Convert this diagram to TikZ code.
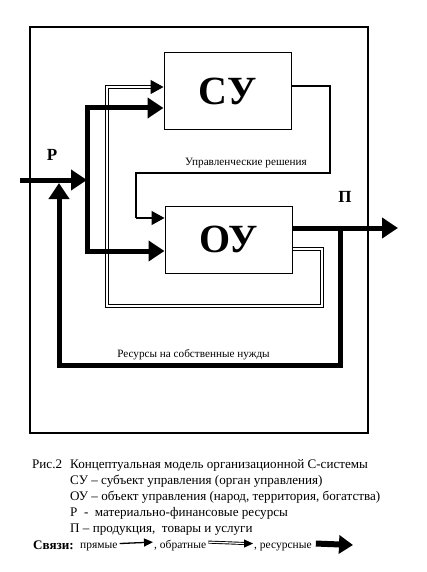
\documentclass[tikz,border=0pt]{standalone}
\usepackage{fontspec}
\setmainfont{Liberation Serif}
\usetikzlibrary{arrows.meta,calc}
\begin{document}
\begin{tikzpicture}[x=1pt,y=-1pt,
  box/.style={draw,line width=1pt,inner sep=0pt},
  bigtxt/.style={font=\fontsize{40}{40}\bfseries\selectfont},
  thinln/.style={line width=1.4pt},
  thinarr/.style={line width=1.4pt,-{Triangle[length=13pt,width=14pt]}},
  thickln/.style={line width=5pt},
  thickarr/.style={line width=5pt,-{Triangle[length=16pt,width=20pt]}},
  fbln/.style={double,double distance=1.3pt,line width=0.9pt},
  small/.style={font=\fontsize{11.2}{12}\selectfont,inner sep=0pt},
  legt/.style={font=\fontsize{11.5}{12}\selectfont,inner sep=0pt,anchor=base west},
  capt/.style={font=\fontsize{13.1}{14}\selectfont,inner sep=0pt,anchor=base west},
  lett/.style={font=\fontsize{17}{17}\bfseries\selectfont,inner sep=0pt}]
\useasboundingbox[fill=white] (0,0) rectangle (426,572);
% outer frame
\draw[line width=2.5pt] (30,27) rectangle (368,433);
% boxes
\node[box,minimum width=127pt,minimum height=77pt] (su) at (227.5,91.5) {};
\node[bigtxt] (sut) at (su.center) {СУ};
\node[box,minimum width=127pt,minimum height=67pt] (ou) at (228.5,239.5) {};
\node[bigtxt] (out) at (ou.center) {ОУ};
% feedback (double), drawn first so the thick lines lie over it
\coordinate (f1) at (322,249);
\coordinate (f2) at (322,306);
\coordinate (f3) at (107,306);
\coordinate (f4) at (107,87);
\coordinate (f5) at (152,87);
\draw[fbln] ([yshift=-9.5pt]ou.east) -- (f1) -- (f2) -- (f3) -- (f4) -- (f5);
\draw[thinarr,shorten <=-1pt] (f5) -- ([yshift=4.5pt]su.west);
% coordinates
\coordinate (pin) at (20,180);
\coordinate (j1) at (87,180);
\coordinate (top) at (87,108);
\coordinate (bot) at (87,251);
% resource input P
\node[lett] (P) at (52,155) {Р};
\draw[thickarr] (pin) -- (j1);
\draw[thickln,line cap=rect] (top) -- (bot);
\draw[thickarr] (top) -- ([yshift=-16.5pt]su.west);
\draw[thickarr] (bot) -- ([yshift=-11.5pt]ou.west);
% control decisions
\coordinate (c1) at (330,86);
\coordinate (c2) at (330,173);
\coordinate (c3) at (136,173);
\coordinate (c4) at (136,218);
\draw[thinln] ([yshift=5.5pt]su.east) -- (c1) -- (c2) -- (c3) -- (c4);
\draw[thinarr] (c4) -- ([yshift=21.5pt]ou.west);
\node[small] (ur) at (246,163) {Управленческие решения};
% output
\coordinate (outend) at (398,228);
\draw[thickarr] ([yshift=11.5pt]ou.east) -- (outend);
\node[lett] (Pi) at (345,197) {П};
% resources for own needs
\coordinate (r0) at (340,228);
\coordinate (r1) at (340,365);
\coordinate (r2) at (59,365);
\coordinate (r25) at (59,250);
\coordinate (r3) at (59,183);
\draw[thickln] (r0) -- (r1) -- (r2) -- (r25);
\draw[thickarr] (r25) -- (r3);
\node[small] (rs) at (193.5,355) {Ресурсы на собственные нужды};
% caption
\node[capt] (c0) at (32,468) {Рис.2};
\node[capt] (c1t) at (70,468) {Концептуальная модель организационной С-системы};
\node[capt] (c2t) at (70,484) {СУ -- субъект управления (орган управления)};
\node[capt] (c3t) at (70,500) {ОУ -- объект управления (народ, территория, богатства)};
\node[capt] (c4t) at (70,516) {Р\ \ -\ \ материально-финансовые ресурсы};
\node[capt] (c5t) at (70,532) {П -- продукция,\ \ товары и услуги};
% legend
\node[capt,font=\fontsize{13.1}{14}\bfseries\selectfont] (sv) at (33,549) {Связи:};
\node[legt] (l1) at (80,548) {прямые};
\node[legt] (l2) at (154,548) {, обратные};
\node[legt] (l3) at (254,548) {, ресурсные};
\draw[line width=1.3pt,-{Triangle[length=9pt,width=8pt]}] ([xshift=2pt,yshift=3pt]l1.east) -- ([xshift=-1pt,yshift=3pt]l2.west);
\draw[fbln,line width=0.9pt,double distance=1.2pt] ([xshift=2pt,yshift=3pt]l2.east) -- ([xshift=-8pt,yshift=3pt]l3.west);
\draw[line width=1pt,-{Triangle[length=9pt,width=8pt]}] ([xshift=-9pt,yshift=3pt]l3.west) -- ([xshift=-1pt,yshift=3pt]l3.west);
\coordinate (l4) at (353,545);
\draw[line width=6pt,-{Triangle[length=14pt,width=18pt]}] ([xshift=4pt,yshift=3pt]l3.east) -- (l4);
\end{tikzpicture}
\end{document}
